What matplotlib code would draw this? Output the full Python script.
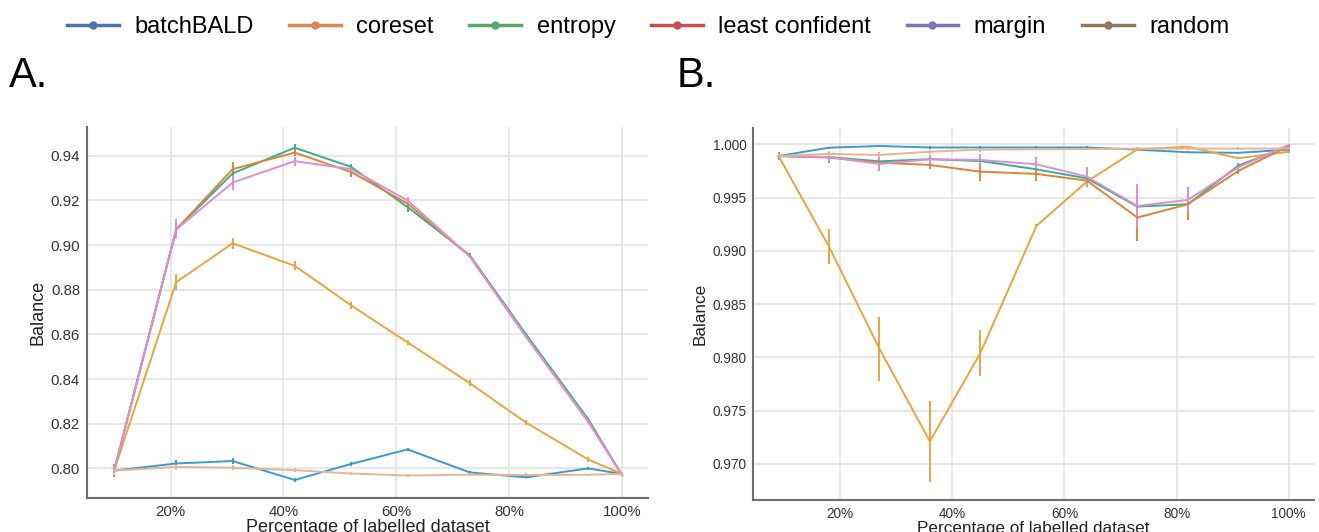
import matplotlib
matplotlib.use('Agg')
import matplotlib.pyplot as plt
from matplotlib.lines import Line2D
from matplotlib.ticker import FuncFormatter

plt.rcParams['font.family'] = ['Liberation Sans', 'DejaVu Sans']

methods = ['batchBALD', 'coreset', 'entropy', 'least confident', 'margin', 'random']
legend_colors = ['#4C72B0', '#DD8452', '#55A868', '#C44E52', '#8172B3', '#937860']
line_colors = {
    'batchBALD': '#3a9ad2',
    'coreset': '#e8a63a',
    'entropy': '#35b08a',
    'least confident': '#dd8535',
    'margin': '#dc8fd8',
    'random': '#e6b592',
}

# panel A
xa = [10, 21, 31, 42, 52, 62, 73, 83, 94, 100]
a_mean = {
    'batchBALD': [0.799, 0.8022, 0.8033, 0.7948, 0.802, 0.8085, 0.7982, 0.796, 0.800, 0.7975],
    'coreset': [0.799, 0.8834, 0.9008, 0.8907, 0.873, 0.8564, 0.8382, 0.8205, 0.804, 0.7975],
    'entropy': [0.799, 0.907, 0.9321, 0.9436, 0.935, 0.917, 0.8955, 0.860, 0.822, 0.797],
    'least confident': [0.799, 0.907, 0.934, 0.9414, 0.9327, 0.9186, 0.895, 0.859, 0.821, 0.797],
    'margin': [0.799, 0.907, 0.928, 0.9376, 0.934, 0.920, 0.895, 0.859, 0.821, 0.797],
    'random': [0.799, 0.8007, 0.8003, 0.7992, 0.7977, 0.7968, 0.7972, 0.797, 0.7972, 0.7975],
}
a_err = {
    'batchBALD': [0.001, 0.0015, 0.0015, 0.0008, 0.0008, 0.0005, 0.0005, 0.0005, 0.0005, 0.0003],
    'coreset': [0.002, 0.0037, 0.0025, 0.002, 0.0015, 0.0012, 0.0015, 0.0012, 0.0012, 0.0003],
    'entropy': [0.002, 0.002, 0.002, 0.0015, 0.0015, 0.002, 0.001, 0.0005, 0.0005, 0.0003],
    'least confident': [0.003, 0.003, 0.003, 0.0015, 0.002, 0.0015, 0.001, 0.0005, 0.0005, 0.0003],
    'margin': [0.002, 0.0045, 0.0035, 0.002, 0.0015, 0.0015, 0.001, 0.0005, 0.0005, 0.0003],
    'random': [0.002, 0.0015, 0.0012, 0.001, 0.0008, 0.0008, 0.0008, 0.0008, 0.0005, 0.0003],
}

# panel B
xb = [9, 18, 27, 36, 45, 55, 64, 73, 82, 91, 100]
b_mean = {
    'batchBALD': [0.9989, 0.99968, 0.99984, 0.9997, 0.9997, 0.9997, 0.9997, 0.9995, 0.99925, 0.9992, 0.9995],
    'coreset': [0.9989, 0.9904, 0.9808, 0.9721, 0.9804, 0.99234, 0.9965, 0.99953, 0.99978, 0.99869, 0.9993],
    'entropy': [0.9989, 0.9988, 0.9984, 0.9986, 0.99843, 0.99765, 0.9968, 0.99415, 0.99437, 0.998, 0.9998],
    'least confident': [0.9989, 0.99875, 0.99828, 0.99806, 0.99743, 0.99722, 0.99659, 0.99312, 0.99437, 0.9975, 0.99984],
    'margin': [0.9989, 0.9988, 0.99815, 0.9986, 0.99853, 0.99812, 0.99696, 0.99421, 0.99478, 0.99784, 0.99994],
    'random': [0.9989, 0.9991, 0.999, 0.9993, 0.9995, 0.99953, 0.99955, 0.9996, 0.9996, 0.9996, 0.9996],
}
b_err = {
    'batchBALD': [0.0002, 0.0001, 0.0001, 0.0001, 0.0001, 0.0001, 0.0001, 0.0001, 0.0001, 0.0001, 0.0001],
    'coreset': [0.0003, 0.0016, 0.003, 0.0038, 0.0022, 0.0002, 0.0002, 0.0001, 0.0001, 0.0001, 0.0001],
    'entropy': [0.0003, 0.0003, 0.0004, 0.0003, 0.0003, 0.0004, 0.0004, 0.0005, 0.0004, 0.0002, 0.0001],
    'least confident': [0.0004, 0.0005, 0.0004, 0.0004, 0.0009, 0.0007, 0.0006, 0.0022, 0.0015, 0.0003, 0.0001],
    'margin': [0.0003, 0.0004, 0.0007, 0.0004, 0.0006, 0.0007, 0.0009, 0.0021, 0.0012, 0.0004, 0.0001],
    'random': [0.0002, 0.0003, 0.0003, 0.0002, 0.0002, 0.0001, 0.0001, 0.0001, 0.0001, 0.0001, 0.0001],
}

a_yticks = [0.80, 0.82, 0.84, 0.86, 0.88, 0.90, 0.92, 0.94]
b_yticks = [0.970, 0.975, 0.980, 0.985, 0.990, 0.995, 1.000]
xticks = [20, 40, 60, 80, 100]

fig = plt.figure(figsize=(13.19, 5.32), dpi=100)
ax_a = fig.add_axes([0.066, 0.0633, 0.4253, 0.6985])
ax_b = fig.add_axes([0.5711, 0.0602, 0.4251, 0.6986])


def draw(ax, xs, means, errs, yticks, ylim, xlim, fmt, tsize, lsize):
    for m in methods:
        ax.errorbar(xs, means[m], yerr=errs[m], color=line_colors[m], lw=1.4,
                    elinewidth=1.4, capsize=0, zorder=3)
    ax.set_xlim(*xlim)
    ax.set_ylim(*ylim)
    ax.set_xticks(xticks)
    ax.xaxis.set_major_formatter(FuncFormatter(lambda v, p: f'{v:.0f}%'))
    ax.set_yticks(yticks)
    ax.yaxis.set_major_formatter(FuncFormatter(lambda v, p: fmt.format(v)))
    ax.grid(True, color='#e3e3e3', lw=1.2, zorder=0)
    ax.set_axisbelow(True)
    for s in ['top', 'right']:
        ax.spines[s].set_visible(False)
    for s in ['left', 'bottom']:
        ax.spines[s].set_color('#6e6e6e')
        ax.spines[s].set_linewidth(1.5)
    ax.tick_params(length=0, labelsize=tsize, labelcolor='#333333', pad=5)
    ax.set_ylabel('Balance', fontsize=lsize, color='#222222', labelpad=3)
    ax.set_xlabel('Percentage of labelled dataset', fontsize=lsize, color='#222222', labelpad=0)


draw(ax_a, xa, a_mean, a_err, a_yticks, (0.7866, 0.953), (5.2, 104.6), '{:.2f}', 10.8, 13)
draw(ax_b, xb, b_mean, b_err, b_yticks, (0.9666, 1.0015), (4.5, 104.5), '{:.3f}', 9.8, 12.3)

fig.text(0.007, 0.858, 'A.', fontsize=30, va='center', ha='left')
fig.text(0.513, 0.858, 'B.', fontsize=30, va='center', ha='left')

handles = [Line2D([0], [0], color=c, lw=2.5, marker='o', markersize=5) for c in legend_colors]
fig.legend(handles, methods, loc='center', bbox_to_anchor=(0.4913, 0.949), ncol=6,
           frameon=False, fontsize=17, handlelength=2.2, columnspacing=1.5, handletextpad=0.65)

fig.savefig('out.png', dpi=100)
